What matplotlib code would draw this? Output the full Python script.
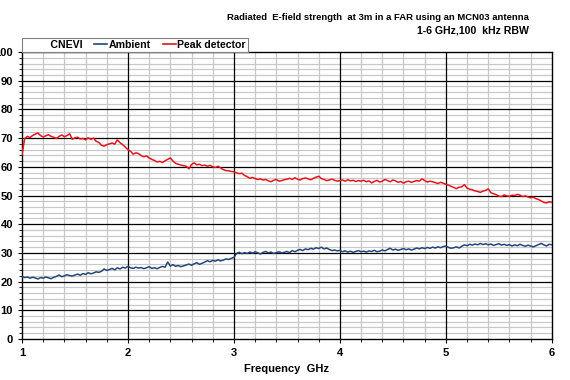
import matplotlib.pyplot as plt
from matplotlib.lines import Line2D
from matplotlib.ticker import MultipleLocator
import numpy as np

plt.rcParams['font.family'] = ['Liberation Sans', 'DejaVu Sans']

# Frecuencias: de 1 a 6 GHz cada 0.025 GHz
freq_start = 1.0
freq_step = 0.025

# Detector de pico (dBuV/m)
peak = [
    64.2, 69.8, 70.6, 70.2, 70.9, 71.4, 71.8, 70.9, 70.4, 70.8,
    71.2, 70.6, 70.3, 69.9, 70.6, 71.1, 70.5, 70.9, 71.5, 69.6,
    70.1, 70.3, 69.7, 69.9, 69.4, 70.1, 69.6, 70.0, 68.9, 68.5,
    67.5, 67.2, 67.7, 68.0, 68.3, 67.9, 69.4, 68.4, 67.7, 66.9,
    66.0, 65.4, 64.4, 64.9, 64.6, 63.9, 63.5, 63.8, 63.1, 62.6,
    62.2, 61.7, 61.9, 61.5, 62.1, 62.6, 63.1, 62.0, 61.2, 60.9,
    60.6, 60.4, 60.2, 59.3, 60.8, 61.4, 60.7, 60.9, 60.4, 60.6,
    60.2, 60.5, 60.0, 59.8, 60.2, 59.6, 59.0, 58.7, 58.6, 58.4,
    58.3, 57.9, 57.6, 57.8, 57.0, 56.6, 56.0, 56.3, 55.9, 55.6,
    55.8, 55.4, 55.6, 55.1, 54.8, 55.3, 55.6, 55.0, 55.2, 55.5,
    55.7, 56.0, 55.6, 56.2, 55.7, 55.4, 55.9, 56.1, 55.8, 55.5,
    56.0, 56.4, 56.7, 55.9, 55.6, 55.2, 55.4, 55.7, 55.3, 55.0,
    55.2, 55.4, 55.0, 55.5, 55.1, 55.3, 54.9, 55.2, 55.0, 55.3,
    54.8, 55.1, 54.4, 54.9, 55.3, 54.7, 55.0, 55.6, 55.2, 54.8,
    55.4, 55.1, 54.6, 54.9, 54.3, 54.8, 55.0, 54.6, 54.9, 55.2,
    55.0, 55.8, 55.2, 54.7, 55.0, 54.8, 54.5, 54.2, 54.6, 54.3,
    53.9, 53.6, 53.2, 52.8, 52.4, 52.9, 53.0, 53.8, 52.6, 52.2,
    52.0, 51.6, 51.4, 51.1, 51.5, 51.8, 52.3, 51.0, 50.6, 50.3,
    49.8, 49.6, 50.2, 49.9, 49.7, 50.1, 50.0, 50.4, 50.1, 49.6,
    49.9, 49.5, 49.2, 49.4, 48.9, 48.6, 48.1, 47.6, 47.4, 47.8,
    47.6,
]

# Ambiente
ambient = [
    21.8, 21.4, 21.6, 21.2, 21.5, 21.3, 20.9, 21.4, 21.2, 21.6,
    21.3, 21.0, 21.5, 21.8, 22.3, 21.7, 22.0, 22.4, 22.1, 21.9,
    22.3, 22.6, 22.2, 22.8, 22.5, 23.1, 22.7, 23.0, 23.4, 23.2,
    23.6, 24.4, 23.9, 24.2, 24.6, 24.1, 24.8, 24.4, 25.0, 24.7,
    25.3, 24.8, 24.6, 25.0, 24.7, 24.9, 24.5, 24.8, 25.2, 24.6,
    24.8, 24.5, 24.9, 25.3, 25.0, 26.8, 25.4, 25.9, 25.3, 25.6,
    25.2, 25.5, 25.8, 26.1, 25.7, 26.2, 26.6, 26.0, 26.4, 26.8,
    27.3, 26.9, 27.4, 27.1, 27.6, 27.2, 27.5, 27.9, 27.7, 28.1,
    28.4, 29.8, 30.2, 29.7, 30.1, 29.8, 30.3, 29.9, 30.4, 30.0,
    29.6, 30.2, 30.5, 30.0, 30.3, 29.8, 30.1, 30.4, 30.0, 30.2,
    30.5, 30.1, 30.8, 30.4, 30.9, 31.2, 30.8, 31.4, 31.1, 31.6,
    31.3, 31.8, 31.5, 32.0, 31.4, 31.7, 31.2, 30.8, 31.0, 30.7,
    30.9, 30.4, 30.7, 30.3, 30.6, 30.2, 30.5, 30.8, 30.4, 30.6,
    30.3, 30.7, 30.5, 30.9, 30.4, 30.6, 31.0, 30.7, 31.2, 31.6,
    31.0, 31.3, 30.9, 31.2, 31.5, 31.1, 31.4, 31.0, 31.3, 31.7,
    31.4, 31.8, 31.5, 31.9, 31.6, 32.0, 31.7, 32.1, 31.8, 32.2,
    32.4, 31.9, 31.6, 31.8, 32.1, 31.7, 32.3, 32.8, 32.5, 33.0,
    32.7, 33.1, 32.8, 33.3, 32.9, 33.2, 32.8, 33.1, 32.6, 32.9,
    33.2, 32.7, 33.0, 32.6, 32.9, 32.4, 32.8, 32.5, 33.0, 32.6,
    32.3, 32.7, 32.4, 32.1, 32.5, 32.9, 33.3, 32.8, 32.4, 33.0,
    32.8,
]

freq = freq_start + freq_step * np.arange(len(peak))

fig = plt.figure(figsize=(5.7, 3.8), dpi=100)
ax = fig.add_axes([0.0386, 0.108, 0.9295, 0.755])

ax.plot(freq, ambient, color='#24467a', linewidth=1.1, label='Ambient', zorder=3)
ax.plot(freq, peak, color='#e8141c', linewidth=1.1, label='Peak detector', zorder=3)

ax.set_xlim(1, 6)
ax.set_ylim(0, 100)
ax.xaxis.set_major_locator(MultipleLocator(1))
ax.xaxis.set_minor_locator(MultipleLocator(0.2))
ax.yaxis.set_major_locator(MultipleLocator(10))
ax.yaxis.set_minor_locator(MultipleLocator(2))

# Rejilla estilo Excel: las menores con grid, las mayores encima con axhline/axvline
ax.grid(which='minor', color='#c8c8c8', linewidth=0.9)
ax.set_axisbelow(True)
for xv in range(2, 6):
    ax.axvline(xv, color='black', linewidth=0.9, zorder=1)
for yv in range(10, 100, 10):
    ax.axhline(yv, color='black', linewidth=0.9, zorder=1)
for s in ax.spines.values():
    s.set_color('black')
    s.set_linewidth(1.0)

ax.tick_params(which='major', length=3, labelsize=8)
ax.tick_params(which='minor', length=2)
for lab in ax.get_xticklabels() + ax.get_yticklabels():
    lab.set_fontweight('bold')

ax.set_xlabel('Frequency  GHz', fontsize=8, fontweight='bold', labelpad=4)

# Leyenda encima del grafico, con "CNEVI" como primera entrada sin linea
handles = [Line2D([], [], color='none'),
           Line2D([], [], color='#24467a', linewidth=1.2),
           Line2D([], [], color='#e8141c', linewidth=1.2)]
labels = ['    CNEVI', 'Ambient', 'Peak detector']
leg = ax.legend(handles, labels, ncol=3, loc='lower left', bbox_to_anchor=(0, 1),
                borderaxespad=0, fancybox=False, edgecolor='#808080', framealpha=1,
                prop={'weight': 'bold', 'size': 7.6}, handlelength=1.25, handletextpad=0.15,
                columnspacing=1.1, borderpad=0.2)
leg.get_frame().set_linewidth(0.8)

fig.text(0.927, 0.953, 'Radiated  E-field strength  at 3m in a FAR using an MCN03 antenna',
         ha='right', va='center', fontsize=6.8, fontweight='bold')
fig.text(0.927, 0.921, '1-6 GHz,100  kHz RBW',
         ha='right', va='center', fontsize=7.6, fontweight='bold')

plt.savefig('out.png', dpi=100)
